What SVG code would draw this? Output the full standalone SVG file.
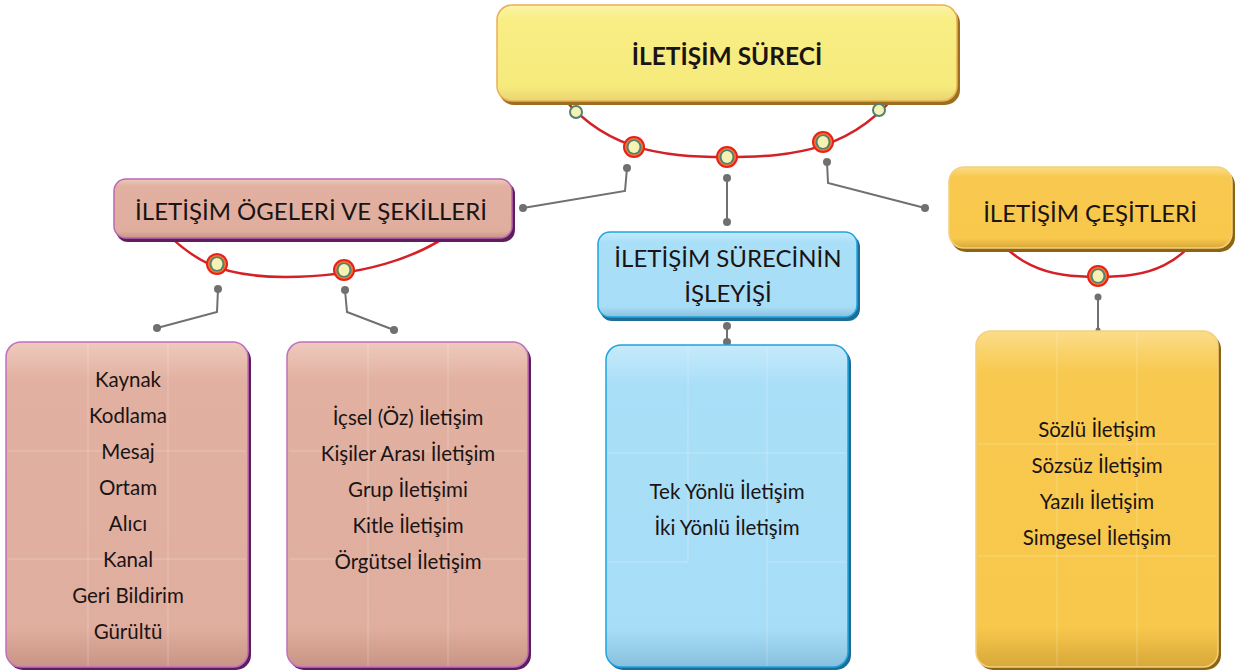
<svg xmlns="http://www.w3.org/2000/svg" width="1235" height="670" viewBox="0 0 1235 670">
<defs>
<style>
.t{font-family:Lato,"Liberation Sans",sans-serif;fill:#1a1414;text-anchor:middle}
.h{font-size:24px}
.b{font-size:20.5px}
.arc{fill:none;stroke:#d42127;stroke-width:2.5}
.con{fill:none;stroke:#707070;stroke-width:2}
.dot{fill:#707070}
.grid{stroke:#ffffff;stroke-opacity:0.25;stroke-width:1;fill:none}
</style>
<linearGradient id="gY" x1="0" y1="0" x2="0" y2="1"><stop offset="0" stop-color="#fbf4a8"/><stop offset="0.15" stop-color="#f8ee84"/><stop offset="0.85" stop-color="#f6ea7c"/><stop offset="1" stop-color="#e9d470"/></linearGradient>
<linearGradient id="gP" x1="0" y1="0" x2="0" y2="1"><stop offset="0" stop-color="#eecabd"/><stop offset="0.12" stop-color="#e1b0a0"/><stop offset="0.88" stop-color="#e0ae9e"/><stop offset="1" stop-color="#c99485"/></linearGradient>
<linearGradient id="gB" x1="0" y1="0" x2="0" y2="1"><stop offset="0" stop-color="#c6eafb"/><stop offset="0.12" stop-color="#aadff8"/><stop offset="0.88" stop-color="#a8ddf7"/><stop offset="1" stop-color="#88c0dc"/></linearGradient>
<linearGradient id="gO" x1="0" y1="0" x2="0" y2="1"><stop offset="0" stop-color="#fbdc8a"/><stop offset="0.12" stop-color="#f8c94f"/><stop offset="0.88" stop-color="#f8c84c"/><stop offset="1" stop-color="#d8a83a"/></linearGradient>
<g id="ring"><circle r="11" fill="#e8201c"/><circle r="9" fill="#f07a30"/><circle r="7.5" fill="#4f8072"/><ellipse rx="5.5" ry="6" fill="#f6f2b4"/></g>
<g id="sring"><circle r="6" fill="#f6f2b4" stroke="#4f8072" stroke-width="2"/></g>
</defs>

<g id="connectors">
<path class="arc" d="M555,87 C600,150 660,157 727,157 C795,157 855,150 902,87"/>
<path class="arc" d="M147,213 C190,262 220,277 285,277 C350,277 425,262 470,217"/>
<path class="arc" d="M970,203 C1010,270 1050,277 1098,277 C1146,277 1186,270 1220,203"/>
<polyline class="con" points="627,168 625,191 523,208"/>
<polyline class="con" points="727,178 727,222"/>
<polyline class="con" points="827,162 828,183 925,208"/>
<polyline class="con" points="218,289 217,312 157,328"/>
<polyline class="con" points="345,290 347,312 394,330"/>
<polyline class="con" points="727,326 727,342"/>
<polyline class="con" points="1098,297 1098,330"/>
<circle class="dot" cx="627" cy="168" r="4"/><circle class="dot" cx="523" cy="208" r="4"/>
<circle class="dot" cx="727" cy="178" r="4"/><circle class="dot" cx="727" cy="222" r="4"/>
<circle class="dot" cx="827" cy="162" r="4"/><circle class="dot" cx="925" cy="208" r="4"/>
<circle class="dot" cx="218" cy="289" r="4"/><circle class="dot" cx="157" cy="328" r="4"/>
<circle class="dot" cx="345" cy="290" r="4"/><circle class="dot" cx="394" cy="330" r="4"/>
<circle class="dot" cx="727" cy="326" r="4"/><circle class="dot" cx="727" cy="342" r="4"/>
<circle class="dot" cx="1098" cy="297" r="3.5"/><circle class="dot" cx="1098" cy="330" r="2.5"/>
</g>

<g id="n-top">
<rect x="499" y="8" width="461" height="97" rx="15" fill="#9a7020"/>
<rect x="497" y="5" width="460" height="96" rx="15" fill="url(#gY)" stroke="#eab055" stroke-width="1.5"/>
<text class="t" x="727" y="65" font-size="24.5" font-weight="bold">İLETİŞİM SÜRECİ</text>
</g>
<use href="#sring" x="576" y="112"/><use href="#sring" x="879" y="110"/>
<use href="#ring" x="634" y="147"/><use href="#ring" x="727" y="157"/><use href="#ring" x="823" y="142"/>

<g id="n-left">
<rect x="116" y="182" width="399" height="60" rx="12" fill="#5e1e5e"/>
<rect x="114" y="179" width="398" height="59" rx="12" fill="url(#gP)" stroke="#b868b8" stroke-width="1.5"/>
<text class="t h" x="311" y="220">İLETİŞİM ÖGELERİ VE ŞEKİLLERİ</text>
</g>
<use href="#ring" x="217" y="264"/><use href="#ring" x="344" y="270"/>

<g id="n-mid">
<rect x="600" y="235" width="260" height="86" rx="12" fill="#1e6c98"/>
<rect x="598" y="232" width="259" height="85" rx="12" fill="url(#gB)" stroke="#1ea4de" stroke-width="1.5"/>
<text class="t h" x="728" y="267">İLETİŞİM SÜRECİNİN</text>
<text class="t h" x="728" y="302">İŞLEYİŞİ</text>
</g>

<g id="n-right">
<rect x="951" y="170" width="284" height="82" rx="15" fill="#8c6414"/>
<rect x="949" y="167" width="283" height="81" rx="15" fill="url(#gO)" stroke="#f4d080" stroke-width="1.5"/>
<text class="t h" x="1090" y="222">İLETİŞİM ÇEŞİTLERİ</text>
</g>
<use href="#ring" x="1098" y="276"/>

<g id="n-ogeler">
<rect x="8" y="345" width="243" height="325" rx="15" fill="#5e1e5e"/>
<rect x="6" y="342" width="242" height="325" rx="15" fill="url(#gP)" stroke="#c070c0" stroke-width="1.5"/>
<path class="grid" d="M88,344V666M168,344V666M8,451H246M8,559H246"/>
<text class="t b" x="128" y="387">Kaynak</text>
<text class="t b" x="128" y="423">Kodlama</text>
<text class="t b" x="128" y="459">Mesaj</text>
<text class="t b" x="128" y="495">Ortam</text>
<text class="t b" x="128" y="531">Alıcı</text>
<text class="t b" x="128" y="567">Kanal</text>
<text class="t b" x="128" y="603">Geri Bildirim</text>
<text class="t b" x="128" y="639">Gürültü</text>
</g>

<g id="n-sekiller">
<rect x="289" y="345" width="242" height="325" rx="15" fill="#5e1e5e"/>
<rect x="287" y="342" width="241" height="325" rx="15" fill="url(#gP)" stroke="#c070c0" stroke-width="1.5"/>
<path class="grid" d="M368,344V666M448,344V666M289,451H526M289,559H526"/>
<text class="t b" x="408" y="425">İçsel (Öz) İletişim</text>
<text class="t b" x="408" y="461">Kişiler Arası İletişim</text>
<text class="t b" x="408" y="497">Grup İletişimi</text>
<text class="t b" x="408" y="533">Kitle İletişim</text>
<text class="t b" x="408" y="569">Örgütsel İletişim</text>
</g>

<g id="n-isleyis">
<rect x="608" y="348" width="243" height="322" rx="15" fill="#1e6c98"/>
<rect x="606" y="345" width="242" height="322" rx="15" fill="url(#gB)" stroke="#1ea4de" stroke-width="1.5"/>
<path class="grid" d="M688,347V562M767,347V666M608,453H846M608,562H688M767,562H846"/>
<text class="t b" x="727" y="499">Tek Yönlü İletişim</text>
<text class="t b" x="727" y="535">İki Yönlü İletişim</text>
</g>

<g id="n-cesitler">
<rect x="978" y="334" width="243" height="336" rx="15" fill="#8c6414"/>
<rect x="976" y="331" width="242" height="336" rx="15" fill="url(#gO)" stroke="#f4d080" stroke-width="1.5"/>
<path class="grid" d="M1057,333V666M1137,333V666M978,444H1216M978,556H1216"/>
<text class="t b" x="1097" y="437">Sözlü İletişim</text>
<text class="t b" x="1097" y="473">Sözsüz İletişim</text>
<text class="t b" x="1097" y="509">Yazılı İletişim</text>
<text class="t b" x="1097" y="545">Simgesel İletişim</text>
</g>
</svg>
